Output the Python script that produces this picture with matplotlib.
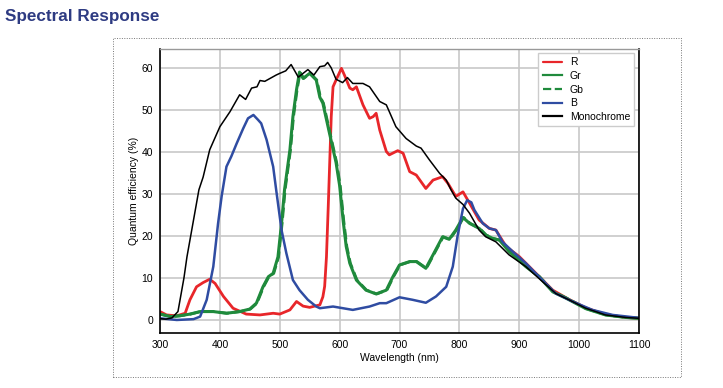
import matplotlib
matplotlib.use("Agg")
import matplotlib.pyplot as plt
from matplotlib.patches import Rectangle

plt.rcParams['font.family'] = ['Liberation Sans', 'DejaVu Sans']

title = "Spectral Response"
x_label = "Wavelength (nm)"
y_label = "Quantum efficiency (%)"
x_ticks = [300, 400, 500, 600, 700, 800, 900, 1000, 1100]
y_ticks = [0, 10, 20, 30, 40, 50, 60]

mono_wl = [300, 310, 320, 330, 335, 340, 345, 350, 355, 360, 365, 372, 383, 400, 417, 433, 443, 453, 462, 467,
           475, 494, 500, 510, 519, 531, 547, 557, 567, 575, 580, 586, 594, 605, 613, 622, 639, 650, 667, 678,
           694, 711, 728, 736, 750, 767, 778, 786, 794, 806, 817, 833, 844, 861, 883, 911, 939, 961, 983, 1011,
           1044, 1078, 1100]
mono = [0.3, 0.2, 0.5, 2, 6, 10, 15, 19, 23, 27, 31, 34, 40.5, 46, 49.6, 53.6, 52.5, 55.2, 55.5, 57,
        56.8, 58.3, 58.7, 59.3, 60.8, 57.8, 59.6, 58.3, 60.3, 60.5, 61.3, 60, 57.3, 56.5, 57.7, 56.3, 56.3, 55.5, 52, 51.2,
        46, 43.2, 41.4, 40.9, 38.1, 34.9, 33.3, 31, 29, 27.5, 25.4, 21.4, 19.8, 18.6, 15.5, 12.7, 9.1, 6.3, 4.8, 2.8,
        1.2, 0.6, 0.4]

r_wl = [300, 311, 328, 342, 350, 361, 372, 383, 392, 406, 422, 444, 467, 489, 500, 517, 528, 539, 550, 567,
        572, 575, 578, 581, 586, 589, 594, 603, 608, 617, 622, 628, 639, 650, 656, 661, 667, 678, 683, 697,
        706, 717, 728, 744, 756, 772, 781, 794, 806, 817, 833, 850, 861, 878, 900, 928, 956, 983, 1011, 1044,
        1078, 1100]
r_val = [2, 1.2, 1, 1.6, 4.8, 7.9, 8.9, 9.7, 8.7, 5.6, 2.8, 1.4, 1.2, 1.6, 1.4, 2.4, 4.4, 3.3, 3, 3.6,
         5.5, 8, 15, 27, 48.4, 55.5, 57.1, 59.9, 58.3, 55.2, 54.8, 55.5, 51.2, 48, 48.4, 49.2, 45.2, 40.1, 39.3, 40.3,
         39.7, 35.3, 34.5, 31.3, 33.3, 34.1, 32.5, 29.4, 30.5, 27.8, 23.8, 21.8, 21.4, 17.5, 15.1, 11.1, 7.1, 4.9, 2.9, 1.3,
         0.6, 0.4]

g_wl = [300, 317, 333, 350, 367, 389, 411, 433, 450, 461, 472, 481, 489, 497, 503, 508, 517, 522, 528, 533,
        539, 550, 561, 567, 572, 583, 594, 600, 606, 611, 617, 628, 644, 661, 678, 689, 700, 717, 728, 744,
        756, 772, 783, 794, 806, 817, 833, 844, 856, 867, 883, 911, 933, 956, 978, 1011, 1044, 1078, 1100]
g_val = [1.4, 0.8, 1, 1.4, 2, 2, 1.6, 2, 2.6, 4, 7.9, 10.3, 11.1, 15, 23, 31, 40.5, 48.4, 54.8, 59,
         57.5, 58.7, 57.1, 53, 51.6, 44.5, 37.5, 32, 23.5, 17.5, 13.5, 9.5, 7.1, 6.2, 7.1, 10.3, 13.1, 13.9, 13.9, 12.3,
         15.5, 19.8, 19.2, 21.4, 24.4, 23, 21.8, 20.2, 19.4, 19, 16.3, 12.7, 10.3, 6.7, 5.2, 2.7, 1.2, 0.6, 0.4]

b_wl = [300, 328, 356, 367, 378, 389, 397, 403, 411, 419, 428, 439, 447, 456, 464, 469, 478, 489, 494, 503,
        511, 522, 533, 547, 561, 567, 589, 622, 650, 667, 678, 700, 722, 744, 761, 778, 789, 797, 806, 813,
        820, 825, 839, 850, 861, 872, 889, 911, 933, 961, 989, 1022, 1056, 1100]
b_val = [0.4, 0, 0.2, 0.8, 4.8, 12.7, 23, 29.5, 36.5, 38.9, 42, 45.6, 48, 48.8, 47.6, 46.8, 42.9, 36.5, 31, 21.4,
         15.9, 9.5, 7.1, 4.8, 3.2, 2.8, 3.2, 2.4, 3.2, 4, 4, 5.4, 4.8, 4.1, 5.6, 7.9, 12.7, 20, 26.5, 28.5,
         28, 26.2, 23, 21.8, 21.4, 18.6, 16.3, 13.5, 10.3, 6.3, 4.4, 2.4, 1.2, 0.5]

W, H = 723, 388
fig = plt.figure(figsize=(W / 100, H / 100), dpi=100)
fig.patch.set_facecolor('white')

# dotted frame
fig.patches.append(Rectangle((113 / W, 1 - 377 / H), (681 - 113) / W, (377 - 38) / H,
                             transform=fig.transFigure, fill=False, edgecolor='#777777',
                             linestyle=(0, (1, 1.5)), linewidth=0.7))

fig.text(5 / W, 1 - 21 / H, title, fontsize=12.3, fontweight='bold', color='#2e3b82',
         ha='left', va='baseline')

ax = fig.add_axes([160 / W, 1 - 333 / H, (639 - 160) / W, (333 - 49) / H])
ax.set_xlim(300, 1100)
ax.set_ylim(-3.1, 64.5)
ax.set_xticks(x_ticks)
ax.set_yticks(y_ticks)
ax.grid(True, color='#c8c8c8', linewidth=1.2)
ax.set_axisbelow(True)
ax.tick_params(length=0, labelsize=7.5, pad=5)
ax.tick_params(axis='y', pad=5)
for s in ['left', 'bottom', 'right']:
    ax.spines[s].set_color('black')
    ax.spines[s].set_linewidth(1.2)
ax.spines['top'].set_color('#999999')
ax.spines['top'].set_linewidth(1.0)

ax.plot(r_wl, r_val, color='#e8262a', lw=2.0, label='R', solid_capstyle='round')
ax.plot(g_wl, g_val, color='#1f8a3c', lw=2.2, label='Gr')
ax.plot([w + 1 for w in g_wl], g_val, color='#1f8a3c', lw=2.0, ls='--', label='Gb')
ax.plot(b_wl, b_val, color='#2f4ca2', lw=1.8, label='B')
ax.plot(mono_wl, mono, color='black', lw=1.1, label='Monochrome')

ax.set_xlabel(x_label, fontsize=7.5, labelpad=2)
ax.set_ylabel(y_label, fontsize=7.5, labelpad=2)

leg = ax.legend(loc='upper right', bbox_to_anchor=(0.99, 0.985), borderaxespad=0,
                fontsize=7.5, handlelength=1.9, handletextpad=0.7, labelspacing=0.35,
                frameon=True, fancybox=False, edgecolor='#cccccc', framealpha=1)
for line in leg.get_lines():
    line.set_linewidth(1.6)

fig.savefig('out.png', dpi=100)
